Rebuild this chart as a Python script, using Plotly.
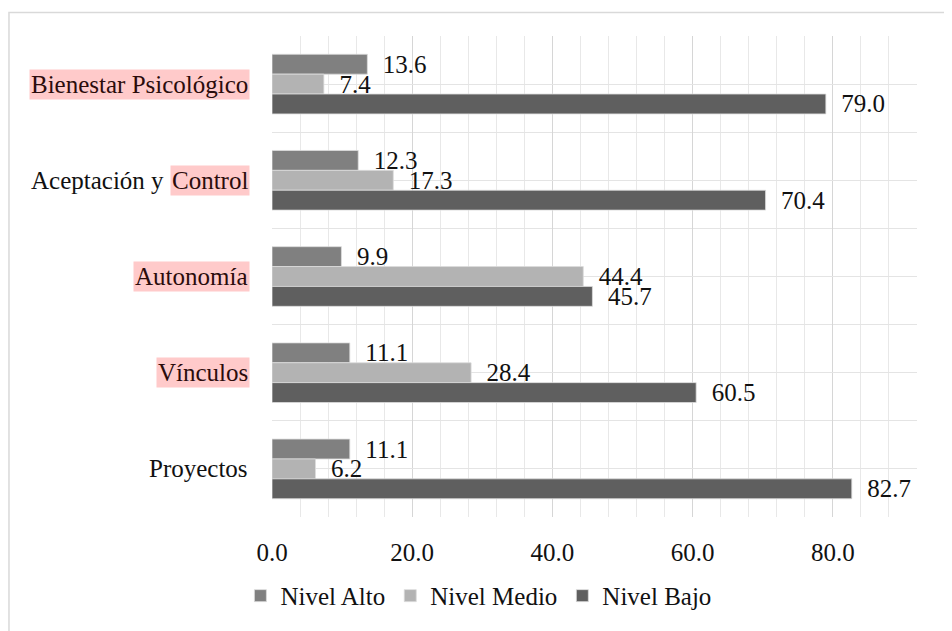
import plotly.graph_objects as go

# Datos (porcentajes)
CATEGORIES = ["Bienestar Psicológico", "Aceptación y Control", "Autonomía", "Vínculos", "Proyectos"]
NIVEL_ALTO = [13.6, 12.3, 9.9, 11.1, 11.1]
NIVEL_MEDIO = [7.4, 17.3, 44.4, 28.4, 6.2]
NIVEL_BAJO = [79.0, 70.4, 45.7, 60.5, 82.7]
SERIES = ["Nivel Alto", "Nivel Medio", "Nivel Bajo"]
X_TICKS = [0, 20, 40, 60, 80]

# parte resaltada de cada etiqueta (None = sin resaltar)
HIGHLIGHT = {
    "Bienestar Psicológico": "Bienestar Psicológico",
    "Aceptación y Control": "Control",
    "Autonomía": "Autonomía",
    "Vínculos": "Vínculos",
    "Proyectos": None,
}

COLORS = {"Nivel Alto": "#808080", "Nivel Medio": "#b3b3b3", "Nivel Bajo": "#5f5f5f"}
FONT = "Liberation Serif, Times New Roman, serif"
FS = 25
PINK = "#ffcaca"

fig = go.Figure()
ypos = list(range(len(CATEGORIES)))
for name, vals in zip(SERIES, [NIVEL_ALTO, NIVEL_MEDIO, NIVEL_BAJO]):
    fig.add_trace(go.Bar(
        x=vals, y=ypos, orientation="h", name=name,
        marker=dict(color=COLORS[name], line=dict(color="#dcdcdc", width=0.8)),
        texttemplate="\u00a0\u00a0%{x:.1f}", textposition="outside",
        textfont=dict(family=FONT, size=FS, color="#111111"),
        constraintext="none", cliponaxis=False,
    ))

# etiquetas del eje y como anotaciones (para el resaltado rosa)
annotations = []
for i, cat in enumerate(CATEGORIES):
    hl = HIGHLIGHT[cat]
    base = dict(xref="paper", yref="y", x=0, y=i, xanchor="right", yanchor="middle",
                showarrow=False, font=dict(family=FONT, size=FS, color="#111111"))
    if hl is None:
        annotations.append(dict(base, text=cat, xshift=-22))
    elif hl == cat:
        annotations.append(dict(base, text=cat, xshift=-22, bgcolor=PINK,
                                font=dict(family=FONT, size=FS, color="#2b0c0c")))
    else:
        prefix = cat[: len(cat) - len(hl)]
        annotations.append(dict(base, text=hl, xshift=-22, bgcolor=PINK,
                                font=dict(family=FONT, size=FS, color="#2b0c0c")))
        annotations.append(dict(base, text=prefix, xshift=-22 - 78))

fig.update_layout(
    template="plotly_white",
    width=944, height=623,
    margin=dict(l=264, r=35, t=28, b=108),
    barmode="group", bargap=0.38, bargroupgap=0,
    paper_bgcolor="white", plot_bgcolor="white",
    font=dict(family=FONT, size=FS, color="#111111"),
    xaxis=dict(
        range=[0, 92], tickvals=X_TICKS, tickformat=".1f",
        showgrid=True, gridcolor="#d6d6d6", gridwidth=1,
        minor=dict(dtick=4, tick0=0, showgrid=True, gridcolor="#e8e8e8", gridwidth=1),
        zeroline=False, showline=False, ticks="", ticklabelstandoff=18,
        tickfont=dict(family=FONT, size=FS, color="#111111"),
    ),
    yaxis=dict(
        range=[len(CATEGORIES) - 0.5, -0.5], tickvals=ypos, showticklabels=False,
        showgrid=True, gridcolor="#e4e4e4", gridwidth=1,
        minor=dict(dtick=0.5, tick0=-0.5, showgrid=True, gridcolor="#e4e4e4", gridwidth=1),
        zeroline=False, showline=False, ticks="",
    ),
    legend=dict(orientation="h", x=0.32, xanchor="center", y=-0.164, yanchor="middle",
                font=dict(family=FONT, size=FS, color="#111111"), traceorder="normal"),
    annotations=annotations,
    shapes=[dict(type="rect", xref="paper", yref="paper", x0=-0.4078, x1=1.2, y0=-0.5, y1=1.049,
                 line=dict(color="#d9d9d9", width=1.5), fillcolor="rgba(0,0,0,0)")],
    showlegend=True,
)

fig.write_html("out.html")
